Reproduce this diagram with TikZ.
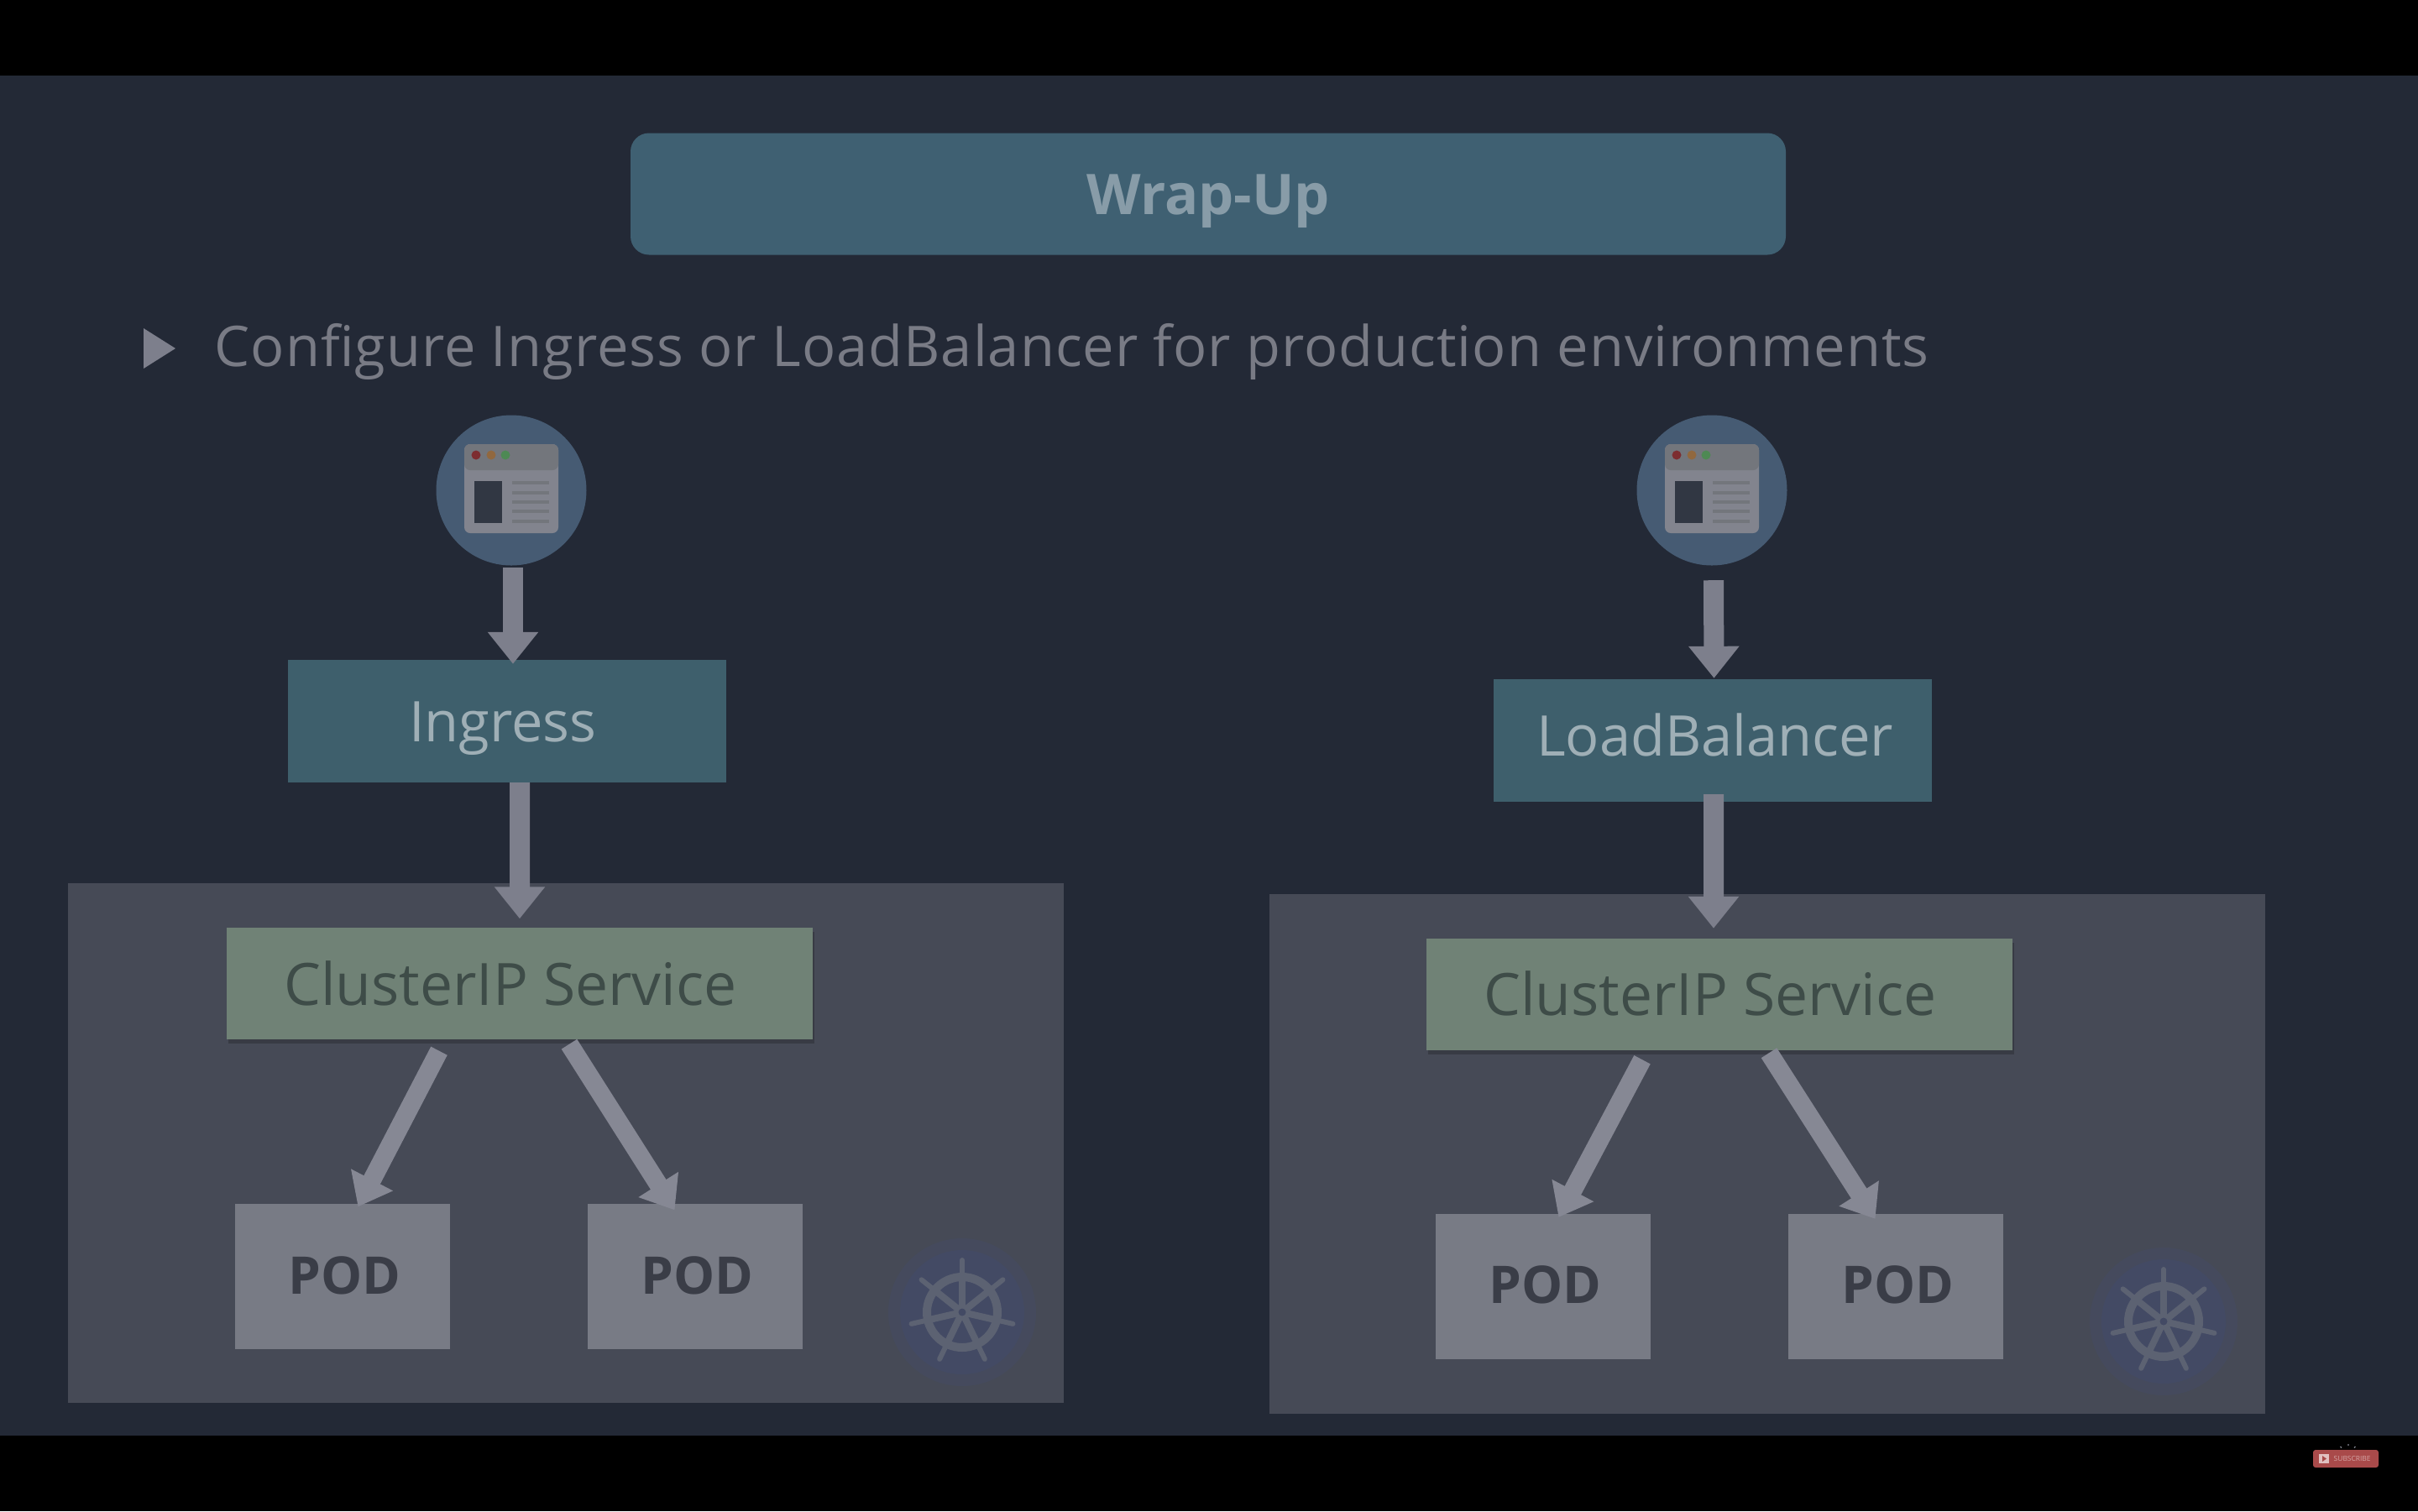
\documentclass[tikz,border=0pt]{standalone}
\usepackage{fontspec}
\setmainfont{Open Sans}
\usetikzlibrary{arrows.meta,shadows}
\definecolor{slide}{RGB}{35,41,54}
\definecolor{titlec}{RGB}{63,96,114}
\definecolor{tealc}{RGB}{62,95,108}
\definecolor{greenc}{RGB}{112,130,118}
\definecolor{greent}{RGB}{62,76,72}
\definecolor{clusterc}{RGB}{70,74,86}
\definecolor{podc}{RGB}{120,123,133}
\definecolor{podt}{RGB}{58,61,71}
\definecolor{arrowc}{RGB}{125,127,140}
\definecolor{arrowl}{RGB}{134,136,148}
\definecolor{bluec}{RGB}{70,91,115}
\definecolor{helmbg}{RGB}{67,74,100}
\definecolor{helmc}{RGB}{92,98,114}
\definecolor{iconc}{RGB}{130,132,142}
\definecolor{iconbar}{RGB}{115,118,124}
\definecolor{subc}{RGB}{169,74,74}
\tikzset{
  titlebox/.style={draw=none,fill=titlec,rounded corners=0.22cm,minimum width=13.76cm,minimum height=1.45cm,text height=0.6cm,text depth=0.12cm,text=white!38!titlec,font=\fontsize{19}{24}\selectfont\bfseries},
  tealbox/.style={fill=tealc,minimum width=5.22cm,minimum height=1.46cm,text=white!50!tealc,font=\fontsize{19}{22}\selectfont},
  svcbox/.style={fill=greenc,minimum width=6.98cm,minimum height=1.33cm,text height=0.62cm,text depth=0.11cm,text=greent,font=\fontsize{19.8}{22}\selectfont,
    drop shadow={shadow xshift=0.02cm,shadow yshift=-0.05cm,opacity=0.2,fill=black}},
  podbox/.style={fill=podc,minimum width=2.56cm,minimum height=1.73cm,text height=0.53cm,text depth=0.12cm,text=podt,font=\fontsize{17.6}{22}\selectfont\bfseries},
  clientdot/.style={circle,fill=bluec,minimum size=1.79cm},
  flow/.style={draw=arrowc,line width=0.24cm,-{Triangle[width=0.58cm,length=0.38cm]}},
  podflow/.style={draw=arrowl,line width=0.22cm,-{Triangle[width=0.54cm,length=0.36cm]}},
}
% browser window on the blue disc
\newcommand{\browsericon}[1]{
  \begin{scope}[shift={(#1)}]
    \fill[iconc,rounded corners=0.07cm] (-0.56,0.55) rectangle (0.56,-0.51);
    \fill[iconbar,rounded corners=0.07cm] (-0.56,0.55) -- (0.56,0.55) -- (0.56,0.24) -- (-0.56,0.24) -- cycle;
    \fill[red!45!iconbar!70!black] (-0.42,0.42) circle (0.055);
    \fill[orange!40!iconbar!85!black] (-0.24,0.42) circle (0.055);
    \fill[green!25!iconbar!90!black] (-0.07,0.42) circle (0.055);
    \fill[slide!85!iconc] (-0.44,0.11) rectangle (-0.11,-0.39);
    \foreach \y in {0.09,-0.03,-0.14,-0.25,-0.37}
      \draw[iconbar,line width=0.035cm] (0.01,\y) -- (0.45,\y);
  \end{scope}
}
% ship wheel in the cluster corner
\newcommand{\helmwheel}[1]{
  \begin{scope}[shift={(#1)}]
    \fill[helmbg!50!clusterc] (0,0) circle (0.88);
    \fill[helmbg] (0,0) circle (0.74);
    \draw[helmc,line width=0.10cm] (0,0) circle (0.42);
    \foreach \a in {90,141.4,192.9,244.3,295.7,347.1,398.6}{
      \draw[helmc,line width=0.08cm] (\a:0.07) -- (\a:0.42);
      \draw[helmc,line width=0.06cm,line cap=round] (\a:0.42) -- (\a:0.62);
    }
    \draw[helmc,line width=0.05cm] (0,0) circle (0.07);
  \end{scope}
}
\begin{document}
\begin{tikzpicture}
  \useasboundingbox (0,0) rectangle (28.8,-18);
  \fill[black] (0,0) rectangle (28.8,-18);
  \fill[slide] (0,-0.90) rectangle (28.8,-17.10);
  % header
  \node[titlebox] (wrapup) at (14.39,-2.31) {Wrap-Up};
  \fill[arrowc] (1.71,-3.91) -- (2.09,-4.15) -- (1.71,-4.39) -- cycle;
  \node[anchor=base west,inner sep=0pt,text=iconc!90!slide,font=\fontsize{19}{22}\selectfont\addfontfeature{LetterSpace=1.5}] (goal) at (2.55,-4.36) {Configure Ingress or LoadBalancer for production environments};
  % clusters first, they lie under the arrows
  \fill[clusterc] (0.81,-10.52) rectangle (12.67,-16.71);
  \fill[clusterc] (15.12,-10.65) rectangle (26.98,-16.84);
  % left column
  \node[clientdot] (clientL) at (6.09,-5.84) {};
  \browsericon{6.09,-5.84}
  \node[tealbox,text height=0.62cm,text depth=0.12cm] (ingress) at (6.04,-8.585) {\kern-0.1cm Ingress};
  \node[svcbox] (svcL) at (6.19,-11.715) {\kern-0.22cm ClusterIP Service};
  \node[podbox] (podLa) at (4.075,-15.205) {\kern0.06cm POD};
  \node[podbox] (podLb) at (8.275,-15.205) {\kern0.06cm POD};
  \helmwheel{11.46,-15.63}
  % right column
  \node[clientdot] (clientR) at (20.39,-5.84) {};
  \browsericon{20.39,-5.84}
  \node[tealbox,text height=0.55cm,text depth=0.18cm] (balancer) at (20.395,-8.815) {\kern0.06cm LoadBalancer};
  \node[svcbox] (svcR) at (20.48,-11.84) {\kern-0.22cm ClusterIP Service};
  \node[podbox] (podRa) at (18.375,-15.32) {\kern0.06cm POD};
  \node[podbox] (podRb) at (22.575,-15.32) {\kern0.06cm POD};
  \helmwheel{25.77,-15.74}
  % connectors left
  \draw[flow] ([xshift=0.02cm,yshift=-0.02cm]clientL.south) -- ([xshift=0.07cm,yshift=-0.06cm]ingress.north);
  \draw[flow] ([xshift=0.15cm]ingress.south) -- ([xshift=0.0cm,yshift=0.10cm]svcL.north);
  \draw[podflow] ([xshift=-0.96cm,yshift=-0.13cm]svcL.south) -- ([xshift=0.19cm,yshift=-0.04cm]podLa.north);
  \draw[podflow] ([xshift=0.59cm,yshift=-0.05cm]svcL.south) -- ([xshift=-0.24cm,yshift=-0.08cm]podLb.north);
  % connectors right
  \draw[flow] ([xshift=0.02cm,yshift=-0.17cm]clientR.south) -- ([xshift=0.02cm,yshift=-0.0cm]balancer.north);
  \draw[flow] ([xshift=0.015cm,yshift=0.09cm]balancer.south) -- ([xshift=-0.07cm,yshift=0.11cm]svcR.north);
  \draw[podflow] ([xshift=-0.92cm,yshift=-0.11cm]svcR.south) -- ([xshift=0.19cm,yshift=-0.05cm]podRa.north);
  \draw[podflow] ([xshift=0.59cm,yshift=-0.03cm]svcR.south) -- ([xshift=-0.24cm,yshift=-0.07cm]podRb.north);
  % channel button
  \node[fill=subc,rounded corners=0.03cm,minimum width=0.78cm,minimum height=0.21cm,inner sep=0pt] (subscribe) at (27.94,-17.375) {};
  \fill[white!65!subc] (27.62,-17.32) rectangle (27.74,-17.43);
  \fill[subc] (27.66,-17.34) -- (27.71,-17.375) -- (27.66,-17.41) -- cycle;
  \node[anchor=west,inner sep=0pt,text=white!50!subc,font=\fontsize{2.4}{3}\selectfont] (subtext) at (27.79,-17.375) {SUBSCRIBE};
  \draw[iconc,line width=0.012cm] (27.97,-17.20) -- (27.97,-17.22) (27.875,-17.23) -- (27.89,-17.245) (28.055,-17.23) -- (28.04,-17.245);
\end{tikzpicture}
\end{document}
